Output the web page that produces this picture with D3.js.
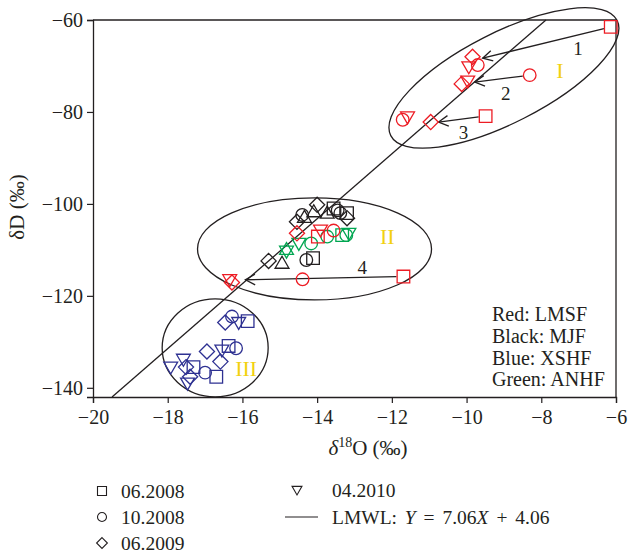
<!DOCTYPE html>
<html>
<head>
<meta charset="utf-8">
<script src="https://cdn.jsdelivr.net/npm/d3@7"></script>
<style>
  body { margin: 0; background: #fff; }
  text { font-family: "Liberation Serif", "DejaVu Serif", serif; fill: #231f20; }
</style>
</head>
<body>
<div id="graph"></div>
<script>
// isotope values: [d18O, dD, marker]
// sq = 06.2008, ci = 10.2008, di = 06.2009, td/tu = 04.2010
var lmsf = [
  [-6.14, -61.5, "sq"], [-9.84, -68.0, "di"], [-9.70, -69.8, "ci"], [-9.94, -70.2, "td"],
  [-10.13, -73.9, "di"], [-9.97, -73.3, "td"], [-8.31, -72.0, "ci"],
  [-9.49, -80.9, "sq"], [-10.96, -82.2, "di"], [-11.71, -81.7, "ci"], [-11.58, -81.1, "td"],
  [-14.54, -106.4, "di"], [-13.91, -105.7, "td"], [-13.98, -107.1, "sq"], [-13.56, -105.8, "ci"],
  [-14.39, -116.4, "ci"], [-11.69, -115.8, "sq"], [-16.28, -117.1, "di"], [-16.34, -116.5, "td"]
];
var mjf = [
  [-14.54, -103.9, "di"], [-14.40, -102.4, "ci"], [-14.34, -102.9, "tu"], [-14.00, -100.2, "di"],
  [-14.09, -101.7, "tu"], [-13.56, -101.0, "sq"], [-13.73, -102.0, "tu"], [-13.38, -102.0, "ci"],
  [-13.20, -103.1, "di"], [-13.20, -102.0, "sq"], [-13.45, -101.4, "ci"],
  [-15.30, -112.4, "di"], [-14.94, -112.9, "tu"], [-14.29, -112.2, "ci"], [-14.11, -111.8, "sq"]
];
var xshf = [
  [-16.28, -124.5, "ci"], [-16.46, -125.8, "di"], [-16.10, -125.8, "td"], [-15.86, -125.5, "sq"],
  [-16.17, -131.4, "ci"], [-16.37, -130.9, "sq"], [-16.55, -131.8, "td"], [-16.95, -132.1, "di"],
  [-16.59, -134.3, "di"], [-17.00, -136.7, "ci"], [-16.70, -137.6, "sq"], [-17.92, -135.5, "td"],
  [-17.58, -133.8, "td"], [-17.51, -135.5, "di"], [-17.31, -135.5, "sq"], [-17.47, -139.0, "td"],
  [-17.40, -137.6, "di"]
];
var anhf = [
  [-14.82, -109.9, "tu"], [-14.82, -110.3, "td"], [-14.49, -108.6, "td"], [-14.16, -108.6, "ci"],
  [-13.73, -107.1, "ci"], [-13.33, -106.8, "sq"], [-13.22, -106.8, "ci"], [-13.15, -106.4, "td"]
];

var xTicks = [-20, -18, -16, -14, -12, -10, -8, -6];
var yTicks = [-140, -120, -100, -80, -60];

// LMWL as printed in the legend, and the intercept the drawn line actually uses
var lmwlSlope = 7.06;
var lmwlIntercept = 4.06;
var lmwlDrawnIntercept = -4.4;

var arrows = [
  { n: "1", x1: -6.14, y1: -61.5, x2: -9.57, y2: -68.3, lx: -7.02, ly: -66.1 },
  { n: "2", x1: -8.31, y1: -72.0, x2: -9.78, y2: -73.5, lx: -8.95, ly: -75.9 },
  { n: "3", x1: -9.49, y1: -80.9, x2: -10.75, y2: -82.2, lx: -10.08, ly: -84.4 },
  { n: "4", x1: -11.69, y1: -115.8, x2: -15.92, y2: -116.5, lx: -12.79, ly: -113.9 }
];

var groups = [
  { name: "I", cx: -9.0, cy: -72.6, lx: -7.5, ly: -70.9 },
  { name: "II", cx: -14.07, cy: -109.8, lx: -12.12, ly: -107.0 },
  { name: "III", cx: -16.73, cy: -131.3, lx: -15.9, ly: -135.9 }
];

var siteLabels = ["Red: LMSF", "Black: MJF", "Blue: XSHF", "Green: ANHF"];
var dateLabels = [["sq", "06.2008"], ["ci", "10.2008"], ["di", "06.2009"], ["td", "04.2010"]];

(function () {
  "use strict";

  var W = 628, H = 557;
  var left = 93, right = 616, top = 20, bottom = 397;

  var red = "#ed1c24", black = "#231f20", blue = "#2e3192", green = "#00a651", yellow = "#f2d110";

  var svg = d3.select("#graph").append("svg")
    .attr("width", W).attr("height", H);

  var x = d3.scaleLinear().domain([-20, -6]).range([left, right]);
  var y = d3.scaleLinear().domain([-142, -60]).range([bottom, top]);

  // marker shape in pixel space, s = half size
  function marker(t, s) {
    if (t === "sq") return "M" + (-s) + "," + (-s) + "h" + 2 * s + "v" + 2 * s + "h" + (-2 * s) + "Z";
    if (t === "ci") return d3.symbol().type(d3.symbolCircle).size(Math.PI * s * s)();
    if (t === "di") { var d = s * 1.2; return "M0," + (-d) + "L" + d + ",0L0," + d + "L" + (-d) + ",0Z"; }
    if (t === "td") { var w = s * 1.1; return "M" + (-w) + "," + (-s * 0.8) + "L" + w + "," + (-s * 0.8) + "L0," + (s * 1.1) + "Z"; }
    if (t === "tu") { var w2 = s * 1.1; return "M" + (-w2) + "," + (s * 0.8) + "L" + w2 + "," + (s * 0.8) + "L0," + (-s * 1.1) + "Z"; }
  }

  // frame
  svg.append("line").attr("x1", left).attr("x2", right).attr("y1", top).attr("y2", top)
    .attr("stroke", black).attr("stroke-width", 1.3);
  svg.append("line").attr("x1", right).attr("x2", right).attr("y1", top).attr("y2", bottom)
    .attr("stroke", black).attr("stroke-width", 1.3);

  var minus = function (d) { return "\u2212" + Math.abs(d); };
  var xAxis = svg.append("g")
    .attr("transform", "translate(0," + bottom + ")")
    .call(d3.axisBottom(x).tickValues(xTicks).tickSize(6).tickPadding(7).tickFormat(minus));
  var yAxis = svg.append("g")
    .attr("transform", "translate(" + left + ",0)")
    .call(d3.axisLeft(y).tickValues(yTicks).tickSize(6).tickPadding(4).tickFormat(minus));
  [xAxis, yAxis].forEach(function (a) {
    a.select(".domain").attr("stroke", black).attr("stroke-width", 1.3);
    a.selectAll(".tick line").attr("stroke", black).attr("stroke-width", 1.2);
    a.selectAll(".tick text").style("font-family", "'Liberation Serif', serif").style("font-size", "20px").attr("fill", black);
  });

  // LMWL line, clipped to y domain
  var yd = y.domain();
  svg.append("line")
    .attr("x1", x((yd[0] - lmwlDrawnIntercept) / lmwlSlope)).attr("y1", y(yd[0]))
    .attr("x2", x((yd[1] - lmwlDrawnIntercept) / lmwlSlope)).attr("y2", y(yd[1]))
    .attr("stroke", black).attr("stroke-width", 1.3);

  // group ellipses (radii in px)
  var ellSize = { "I": [127, 45, -27], "II": [117, 51, 0], "III": [53, 49, 0] };
  groups.forEach(function (g) {
    var e = ellSize[g.name];
    svg.append("ellipse")
      .attr("cx", 0).attr("cy", 0).attr("rx", e[0]).attr("ry", e[1])
      .attr("transform", "translate(" + x(g.cx) + "," + y(g.cy) + ") rotate(" + e[2] + ")")
      .attr("fill", "none").attr("stroke", black).attr("stroke-width", 1.3);
    svg.append("text")
      .attr("x", x(g.lx)).attr("y", y(g.ly))
      .attr("text-anchor", "middle").attr("dominant-baseline", "central")
      .style("font-size", "22px").style("fill", yellow)
      .text(g.name);
  });

  // arrows with open heads
  arrows.forEach(function (a) {
    var x1 = x(a.x1), y1 = y(a.y1), x2 = x(a.x2), y2 = y(a.y2);
    var ang = Math.atan2(y2 - y1, x2 - x1);
    var sx = x1 + Math.cos(ang) * 7, sy = y1 + Math.sin(ang) * 7;
    svg.append("line").attr("x1", sx).attr("y1", sy).attr("x2", x2).attr("y2", y2)
      .attr("stroke", black).attr("stroke-width", 1.3);
    var hl = 11, ha = 0.5;
    svg.append("path")
      .attr("d", "M" + (x2 - hl * Math.cos(ang - ha)) + "," + (y2 - hl * Math.sin(ang - ha)) +
        "L" + x2 + "," + y2 +
        "L" + (x2 - hl * Math.cos(ang + ha)) + "," + (y2 - hl * Math.sin(ang + ha)))
      .attr("fill", "none").attr("stroke", black).attr("stroke-width", 1.3);
    svg.append("text")
      .attr("x", x(a.lx)).attr("y", y(a.ly))
      .attr("text-anchor", "middle").attr("dominant-baseline", "central")
      .style("font-size", "19px").text(a.n);
  });

  // data points
  var sites = [[mjf, black], [anhf, green], [xshf, blue], [lmsf, red]];
  sites.forEach(function (s) {
    svg.append("g").selectAll("path")
      .data(s[0]).enter().append("path")
      .attr("d", function (d) { return marker(d[2], 6.3); })
      .attr("transform", function (d) { return "translate(" + x(d[0]) + "," + y(d[1]) + ")"; })
      .attr("fill", "none").attr("stroke", s[1]).attr("stroke-width", 1.3);
  });

  // site colour key inside plot
  svg.append("g").selectAll("text")
    .data(siteLabels).enter().append("text")
    .attr("x", 492).attr("y", function (d, i) { return 321 + i * 21.8; })
    .style("font-size", "20px")
    .text(function (d) { return d; });

  // axis titles
  svg.append("text")
    .attr("transform", "translate(24,207) rotate(-90)")
    .attr("text-anchor", "middle")
    .style("font-size", "21px")
    .text("\u03b4D (\u2030)");

  var xt = svg.append("text")
    .attr("x", 368).attr("y", 455)
    .attr("text-anchor", "middle")
    .style("font-size", "21px");
  xt.append("tspan").style("font-style", "italic").text("\u03b4");
  xt.append("tspan").attr("dy", -8).style("font-size", "14px").text("18");
  xt.append("tspan").attr("dy", 8).text("O (\u2030)");

  // date legend below chart
  var legPos = [[102, 491], [102, 517], [102, 543], [297, 490]];
  dateLabels.forEach(function (d, i) {
    var p = legPos[i];
    svg.append("path")
      .attr("d", marker(d[0], 4.5))
      .attr("transform", "translate(" + p[0] + "," + p[1] + ")")
      .attr("fill", "none").attr("stroke", black).attr("stroke-width", 1.1);
    svg.append("text")
      .attr("x", i < 3 ? 121 : 332).attr("y", p[1] + 7)
      .style("font-size", "19.5px").text(d[1]);
  });
  svg.append("line").attr("x1", 285).attr("x2", 318).attr("y1", 517).attr("y2", 517)
    .attr("stroke", black).attr("stroke-width", 1.1);
  var lt = svg.append("text").attr("x", 332).attr("y", 524)
    .style("font-size", "19.5px").style("word-spacing", "3px");
  lt.append("tspan").text("LMWL: ");
  lt.append("tspan").style("font-style", "italic").text("Y");
  lt.append("tspan").text(" = " + lmwlSlope.toFixed(2));
  lt.append("tspan").style("font-style", "italic").text("X");
  lt.append("tspan").text(" + " + lmwlIntercept.toFixed(2));
})();
</script>
</body>
</html>
